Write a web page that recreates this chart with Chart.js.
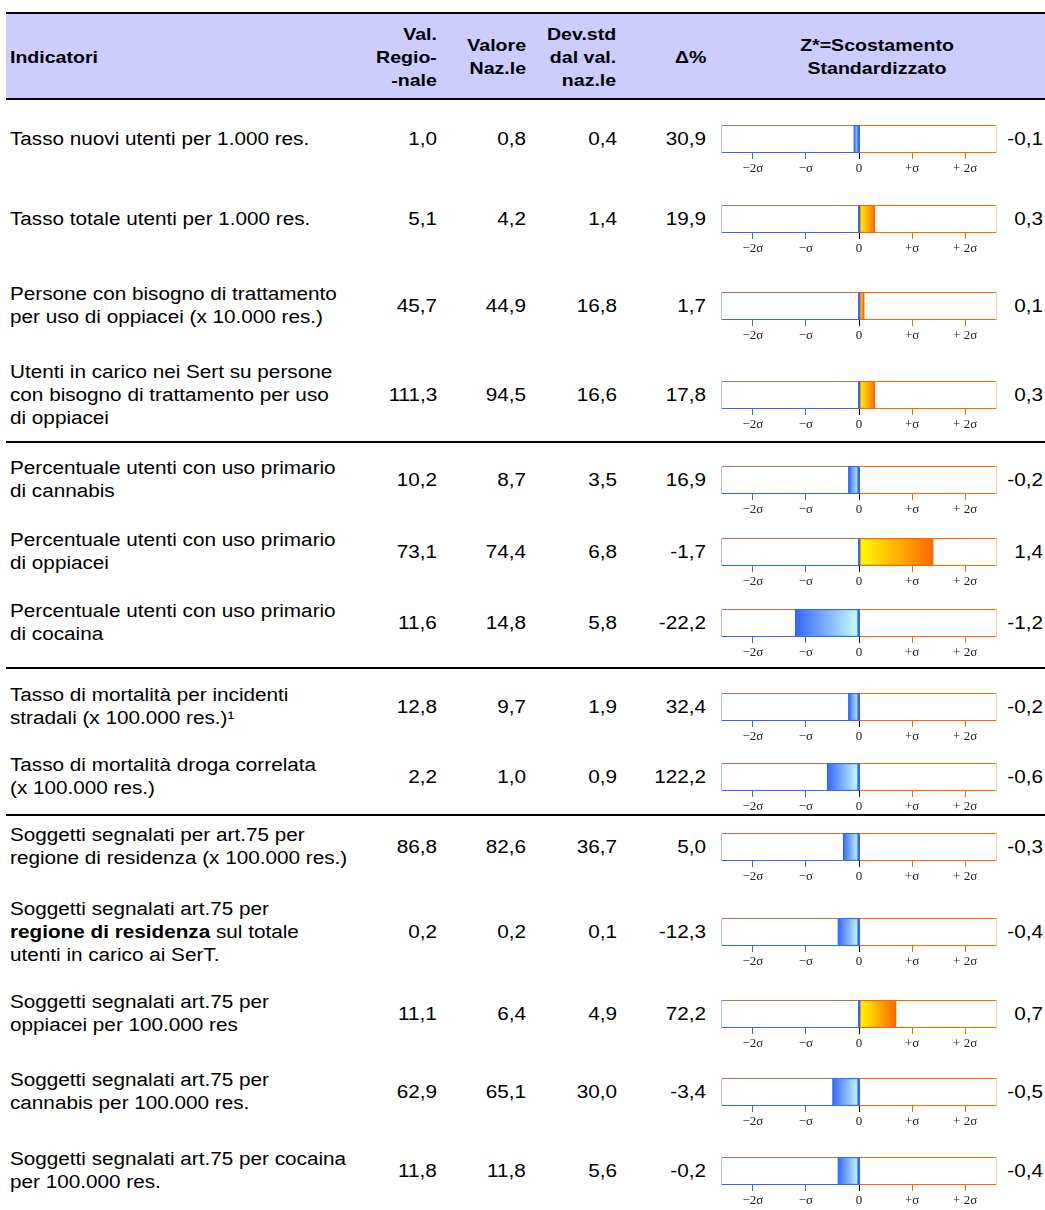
<!DOCTYPE html>
<html>
<head>
<meta charset="utf-8">
<script src="https://cdn.jsdelivr.net/npm/chart.js@4.4.0/dist/chart.umd.min.js"></script>
<style>
  body { margin: 0; background: #fff; }
  #page { position: relative; width: 1045px; height: 1210px; overflow: hidden;
          font-family: "Liberation Sans", Arial, sans-serif; color: #000; }
  .rule { position: absolute; left: 6px; width: 1039px; height: 2px; background: #000; }
  .head { position: absolute; left: 6px; top: 14px; width: 1039px; height: 84px; background: #ccccff; }
  .cell { position: absolute; height: 0; }
  .cell > div { position: absolute; top: 0; white-space: pre; line-height: 23px; font-size: 18px; }
  .cell > div > div { height: 23px; }
  .l > div { left: 0; transform: translateY(-50%) scaleX(1.15); transform-origin: left center; }
  .r > div { right: 0; text-align: right; transform: translateY(-50%) scaleX(1.15); transform-origin: right center; }
  .c > div { left: 0; transform: translate(-50%, -50%) scaleX(1.15); text-align: center; }
  .h > div { font-weight: bold; font-size: 17px; line-height: 23px; }
  canvas { position: absolute; }
</style>
</head>
<body>
<div id="page"></div>
<script>
const indicators = [
  'Tasso nuovi utenti per 1.000 res.',
  'Tasso totale utenti per 1.000 res.',
  'Persone con bisogno di trattamento\nper uso di oppiacei (x 10.000 res.)',
  'Utenti in carico nei Sert su persone\ncon bisogno di trattamento per uso\ndi oppiacei',
  'Percentuale utenti con uso primario\ndi cannabis',
  'Percentuale utenti con uso primario\ndi oppiacei',
  'Percentuale utenti con uso primario\ndi cocaina',
  'Tasso di mortalità per incidenti\nstradali (x 100.000 res.)\u00b9',
  'Tasso di mortalità droga correlata\n(x 100.000 res.)',
  'Soggetti segnalati per art.75 per\nregione di residenza (x 100.000 res.)',
  'Soggetti segnalati art.75 per\n<b>regione di residenza</b> sul totale\nutenti in carico ai SerT.',
  'Soggetti segnalati art.75 per\noppiacei per 100.000 res',
  'Soggetti segnalati art.75 per\ncannabis per 100.000 res.',
  'Soggetti segnalati art.75 per cocaina\nper 100.000 res.'
]
const valRegionale = [1.0, 5.1, 45.7, 111.3, 10.2, 73.1, 11.6, 12.8, 2.2, 86.8, 0.2, 11.1, 62.9, 11.8]
const valNazionale = [0.8, 4.2, 44.9, 94.5, 8.7, 74.4, 14.8, 9.7, 1.0, 82.6, 0.2, 6.4, 65.1, 11.8]
const devStd = [0.4, 1.4, 16.8, 16.6, 3.5, 6.8, 5.8, 1.9, 0.9, 36.7, 0.1, 4.9, 30.0, 5.6]
const deltaPct = [30.9, 19.9, 1.7, 17.8, 16.9, -1.7, -22.2, 32.4, 122.2, 5.0, -12.3, 72.2, -3.4, -0.2]
const zScore = [-0.1, 0.3, 0.1, 0.3, -0.2, 1.4, -1.2, -0.2, -0.6, -0.3, -0.4, 0.7, -0.5, -0.4]
const sigmaTicks = [-2, -1, 0, 1, 2]
const sigmaLabels = ['\u22122\u03c3', '\u2212\u03c3', '0', '+\u03c3', '+ 2\u03c3']

// layout (vertical centre of each row's box, separator lines)
const rowY = [139, 219, 306, 395, 480, 552, 623, 707, 777, 847, 932, 1014, 1092, 1171]
const rules = [12, 98, 441, 667, 814]

const page = document.getElementById('page')
const fmt = v => v.toFixed(1).replace('.', ',')

function put(cls, text, x, y) {
  const d = document.createElement('div')
  d.className = 'cell ' + cls
  if (cls.includes('r')) d.style.right = (1045 - x) + 'px'
  else d.style.left = x + 'px'
  d.style.top = y + 'px'
  const inner = document.createElement('div')
  // one block per line so that every text run stays on its own line
  inner.innerHTML = text.split('\n').map(s => '<div>' + s + '</div>').join('')
  d.appendChild(inner)
  page.appendChild(d)
}

const head = document.createElement('div')
head.className = 'head'
page.appendChild(head)
for (let y of rules) {
  const r = document.createElement('div')
  r.className = 'rule'
  r.style.top = y + 'px'
  page.appendChild(r)
}
put('l h', 'Indicatori', 10, 57)
put('r h', 'Val.\nRegio-\n-nale', 437, 57)
put('r h', 'Valore\nNaz.le', 526, 57)
put('r h', 'Dev.std\ndal val.\nnaz.le', 616, 57)
put('r h', '\u0394%', 706, 57)
put('c h', 'Z*=Scostamento\nStandardizzato', 877, 57)

const boxPlugin = {
  id: 'sigmaBox',
  beforeDatasetsDraw(chart) {
    const { ctx, chartArea: a } = chart
    const x0 = chart.scales.x.getPixelForValue(0)
    const t = a.top + 0.5, b = a.bottom - 0.5, l = a.left + 0.5, r = a.right - 0.5
    const seg = (c, x1, y1, x2, y2) => {
      ctx.strokeStyle = c
      ctx.beginPath(); ctx.moveTo(x1, y1); ctx.lineTo(x2, y2); ctx.stroke()
    }
    ctx.save()
    ctx.lineWidth = 1
    seg('#b8705c', l, t, x0, t)
    seg('#ff6600', x0, t, r, t)
    seg('#3366ff', l, b, x0, b)
    seg('#ff6600', x0, b, r, b)
    seg('#b0c0ff', l, t, l, b)
    seg('#ffc8a0', r, t, r, b)
    ctx.restore()
  },
  afterDatasetsDraw(chart) {
    const { ctx, chartArea: a } = chart
    const x0 = Math.round(chart.scales.x.getPixelForValue(0))
    ctx.save()
    ctx.fillStyle = '#3366ff'
    ctx.fillRect(x0 - 1, a.top, 2, a.bottom - a.top)
    ctx.restore()
  }
}

function barFill(context) {
  const chart = context.chart
  if (!chart.chartArea) return 'rgba(0,0,0,0)'
  const xs = chart.scales.x
  const v = context.raw
  const x0 = xs.getPixelForValue(0)
  const x1 = xs.getPixelForValue(v)
  let g
  if (v < 0) {
    g = chart.ctx.createLinearGradient(x1, 0, x0, 0)
    g.addColorStop(0, '#3366ff')
    g.addColorStop(1, '#ccffff')
  } else {
    g = chart.ctx.createLinearGradient(x0, 0, x1 + 0.01, 0)
    g.addColorStop(0, '#ffff00')
    g.addColorStop(1, '#ff6600')
  }
  return g
}

indicators.forEach((label, i) => {
  const y = rowY[i]
  put('l', label, 10, y)
  put('r', fmt(valRegionale[i]), 437, y)
  put('r', fmt(valNazionale[i]), 526, y)
  put('r', fmt(devStd[i]), 617, y)
  put('r', fmt(deltaPct[i]), 706, y)
  put('r', fmt(zScore[i]), 1043, y)

  const cv = document.createElement('canvas')
  cv.width = 276
  cv.height = 54
  cv.style.left = '721px'
  cv.style.top = (y - 14) + 'px'
  page.appendChild(cv)

  new Chart(cv, {
    type: 'bar',
    data: {
      labels: [''],
      datasets: [{
        data: [zScore[i]],
        backgroundColor: barFill,
        borderColor: zScore[i] < 0 ? '#3366ff' : '#ff6600',
        borderWidth: 1.5,
        borderSkipped: false,
        barPercentage: 1,
        categoryPercentage: 1
      }]
    },
    options: {
      indexAxis: 'y',
      responsive: false,
      animation: false,
      layout: { padding: 0 },
      plugins: { legend: { display: false }, tooltip: { enabled: false } },
      scales: {
        x: {
          min: -2.6,
          max: 2.6,
          afterBuildTicks: s => { s.ticks = sigmaTicks.map(v => ({ value: v })) },
          afterFit: s => { s.height = 26 },
          border: { display: false },
          grid: {
            drawOnChartArea: false,
            tickLength: 6,
            tickColor: c => c.tick.value < 0 ? '#3366ff' : (c.tick.value > 0 ? '#ff6600' : '#000'),
            lineWidth: 1
          },
          ticks: {
            callback: (v, idx) => sigmaLabels[idx],
            font: { family: '"Liberation Serif", "Times New Roman", serif', size: 13 },
            color: '#222',
            padding: 2,
            maxRotation: 0,
            autoSkip: false
          }
        },
        y: { display: false }
      }
    },
    plugins: [boxPlugin]
  })
})
</script>
</body>
</html>
